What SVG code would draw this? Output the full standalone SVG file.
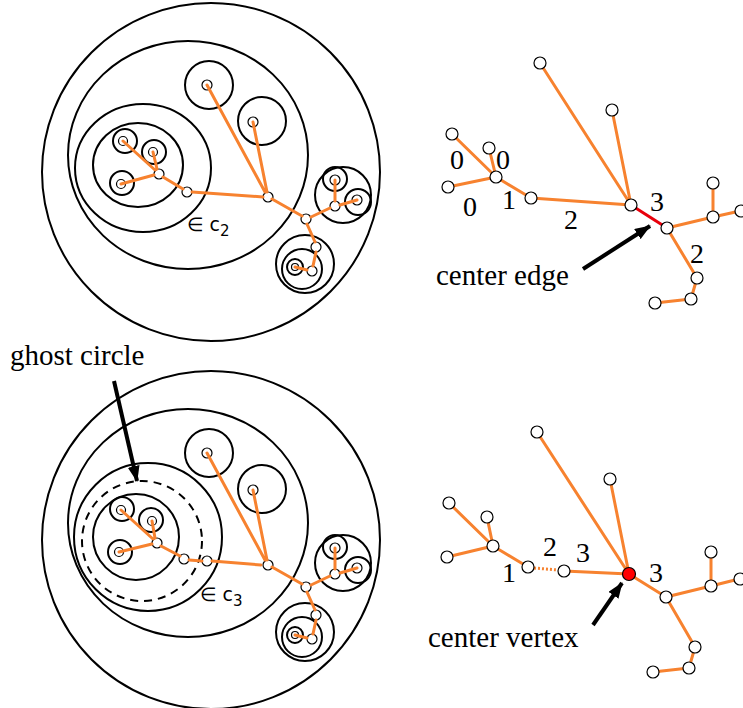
<svg xmlns="http://www.w3.org/2000/svg" width="743" height="708" viewBox="0 0 743 708">
<style>
.c{fill:none;stroke:#000;stroke-width:2}
.d{fill:none;stroke:#000;stroke-width:2;stroke-dasharray:8 6}
.e{stroke:#f7822f;stroke-width:3;fill:none;stroke-linecap:round}
.dot{stroke:#f7822f;stroke-width:3;fill:none;stroke-dasharray:2 2}
.red{stroke:#e8000b;stroke-width:3}
.v{fill:#fff;stroke:#000;stroke-width:1.2}
.lf{fill:none;stroke:#000;stroke-width:1.2}
.t{font-family:"Liberation Serif","Times New Roman",serif;font-size:29px;fill:#000}
.n{font-family:"Liberation Serif","Times New Roman",serif;font-size:28px;fill:#000;text-anchor:middle}
.s{font-family:"DejaVu Sans","Liberation Sans",sans-serif;font-size:19px;fill:#000}
.ar{stroke:#000;stroke-width:4;fill:none}
</style>
<defs>
<marker id="ah" markerUnits="userSpaceOnUse" markerWidth="16" markerHeight="12" refX="15" refY="6" orient="auto">
<path d="M0,0 L16,6 L0,12 z" fill="#000"/>
</marker>
<g id="shared">
<circle class="c" cx="211" cy="172" r="169"/>
<ellipse class="c" cx="188" cy="155" rx="120" ry="114"/>
<circle class="c" cx="209" cy="85" r="24"/>
<circle class="c" cx="262" cy="121" r="24"/>
<circle class="c" cx="343" cy="195" r="28"/>
<circle class="c" cx="335" cy="179" r="12"/>
<circle class="c" cx="358" cy="202" r="13"/>
<circle class="c" cx="305" cy="264" r="29"/>
<circle class="c" cx="302" cy="269" r="20"/>
<circle class="c" cx="295" cy="267" r="8"/>
<g>
<circle class="v" cx="268" cy="197" r="5"/>
<circle class="v" cx="306" cy="219" r="5"/>
<circle class="v" cx="335" cy="206" r="5"/>
<circle class="v" cx="316" cy="247" r="5"/>
<circle class="v" cx="312" cy="271" r="5"/>
<circle class="lf" cx="207" cy="85" r="5"/>
<circle class="lf" cx="253" cy="122" r="5"/>
<circle class="lf" cx="335" cy="180" r="5"/>
<circle class="lf" cx="357" cy="200" r="5"/>
<circle class="lf" cx="295" cy="267" r="3.5"/>
</g>
<path class="e" d="M207,85 L265,192 M253,122 L267,192 M272,199 L302,216 M311,217 L330,208 M335,201 L335,180 M340,205 L357,200 M307,224 L315,242 M316,252 L313,266 M307,270 L295,267"/>
</g>
</defs>

<!-- top-left figure -->
<g id="fig-top-left">
<use href="#shared"/>
<ellipse class="c" cx="143" cy="168" rx="68" ry="64"/>
<ellipse class="c" cx="138" cy="165" rx="45" ry="42"/>
<circle class="c" cx="125" cy="141" r="12"/>
<circle class="c" cx="154" cy="152" r="12"/>
<circle class="c" cx="122" cy="183" r="12"/>
<circle class="lf" cx="123" cy="141" r="4.5"/>
<circle class="lf" cx="153" cy="152" r="4.5"/>
<circle class="lf" cx="121" cy="184" r="4.5"/>
<circle class="v" cx="159" cy="174" r="5"/>
<circle class="v" cx="187" cy="192" r="5"/>
<path class="e" d="M123,141 L155,170 M153,152 L157,169 M121,184 L154,175 M163,177 L183,189 M192,192 L263,197"/>
<text class="s" x="187" y="231">∈ c<tspan font-size="15" dy="5">2</tspan></text>
</g>

<!-- bottom-left figure -->
<g id="fig-bottom-left">
<use href="#shared" transform="translate(0,368)"/>
<circle class="c" cx="148" cy="537" r="74"/>
<circle class="d" cx="142" cy="541" r="60"/>
<circle class="c" cx="136" cy="537" r="43"/>
<circle class="c" cx="122" cy="509" r="12"/>
<circle class="c" cx="151" cy="520" r="12"/>
<circle class="c" cx="120" cy="552" r="12"/>
<circle class="lf" cx="121" cy="510" r="4.5"/>
<circle class="lf" cx="152" cy="521" r="4.5"/>
<circle class="lf" cx="119" cy="552" r="4.5"/>
<circle class="v" cx="157" cy="543" r="5"/>
<circle class="v" cx="184" cy="559" r="5"/>
<circle class="v" cx="207" cy="561" r="5"/>
<path class="e" d="M121,510 L153,539 M152,521 L155,538 M119,552 L152,544 M161,546 L180,556 M189,560 L202,561 M212,561 L261,565"/>
<text class="s" x="200" y="601">∈ c<tspan font-size="15" dy="5">3</tspan></text>
</g>

<!-- connectors: top-right tree -->
<g id="edges-top">
<path class="e" d="M540,63 L631,205 M612,110 L631,205 M531,198 L631,205 M667,228 L713,217 M713,217 L713,183 M713,217 L740,211 M667,228 L697,278 M697,278 L691,299 M691,299 L655,303 M496,177 L452,134 M496,177 L489,148 M496,177 L448,187 M496,177 L531,198"/>
<path class="red" d="M631,205 L667,228"/>
</g>
<g id="nodes-top">
<circle class="v" cx="540" cy="63" r="6"/>
<circle class="v" cx="612" cy="110" r="6"/>
<circle class="v" cx="452" cy="134" r="6"/>
<circle class="v" cx="489" cy="148" r="6"/>
<circle class="v" cx="496" cy="177" r="6"/>
<circle class="v" cx="448" cy="187" r="6"/>
<circle class="v" cx="531" cy="198" r="6"/>
<circle class="v" cx="631" cy="205" r="6"/>
<circle class="v" cx="667" cy="228" r="6"/>
<circle class="v" cx="713" cy="183" r="6"/>
<circle class="v" cx="713" cy="217" r="6"/>
<circle class="v" cx="741" cy="211" r="6"/>
<circle class="v" cx="697" cy="278" r="6"/>
<circle class="v" cx="691" cy="299" r="6"/>
<circle class="v" cx="655" cy="303" r="6"/>
</g>
<g id="labels-top">
<text class="n" x="457" y="169">0</text>
<text class="n" x="503" y="169">0</text>
<text class="n" x="470" y="216">0</text>
<text class="n" x="509" y="209">1</text>
<text class="n" x="571" y="229">2</text>
<text class="n" x="657" y="211">3</text>
<text class="n" x="697" y="263">2</text>
<text class="t" x="436" y="285">center edge</text>
</g>

<!-- connectors: bottom-right tree -->
<g id="edges-bottom">
<path class="e" d="M537,432 L629,574 M610,479 L629,574 M564,571 L629,574 M629,574 L666,597 M666,597 L711,586 M711,586 L711,552 M711,586 L739,579 M666,597 L695,647 M695,647 L689,668 M689,668 L653,672 M493,546 L449,503 M493,546 L487,517 M493,546 L447,557 M493,546 L528,567"/>
<path class="dot" d="M534,568 L558,570"/>
</g>
<g id="nodes-bottom">
<circle class="v" cx="537" cy="432" r="6"/>
<circle class="v" cx="610" cy="479" r="6"/>
<circle class="v" cx="449" cy="503" r="6"/>
<circle class="v" cx="487" cy="517" r="6"/>
<circle class="v" cx="493" cy="546" r="6"/>
<circle class="v" cx="447" cy="557" r="6"/>
<circle class="v" cx="528" cy="567" r="6"/>
<circle class="v" cx="564" cy="571" r="6"/>
<circle cx="629" cy="574" r="6.5" fill="#f00" stroke="#000" stroke-width="1.2"/>
<circle class="v" cx="666" cy="597" r="6"/>
<circle class="v" cx="711" cy="552" r="6"/>
<circle class="v" cx="711" cy="586" r="6"/>
<circle class="v" cx="740" cy="579" r="6"/>
<circle class="v" cx="695" cy="647" r="6"/>
<circle class="v" cx="689" cy="668" r="6"/>
<circle class="v" cx="653" cy="672" r="6"/>
</g>
<g id="labels-bottom">
<text class="n" x="550" y="556">2</text>
<text class="n" x="583" y="562">3</text>
<text class="n" x="509" y="582">1</text>
<text class="n" x="656" y="582">3</text>
<text class="t" x="428" y="647">center vertex</text>
<text class="t" x="10" y="365">ghost circle</text>
</g>

<!-- pointer arrows -->
<g id="arrows">
<line class="ar" x1="583" y1="269" x2="650" y2="226" marker-end="url(#ah)"/>
<line class="ar" x1="593" y1="625" x2="622" y2="583" marker-end="url(#ah)"/>
<line class="ar" x1="114" y1="381" x2="137" y2="481" marker-end="url(#ah)"/>
</g>
</svg>
